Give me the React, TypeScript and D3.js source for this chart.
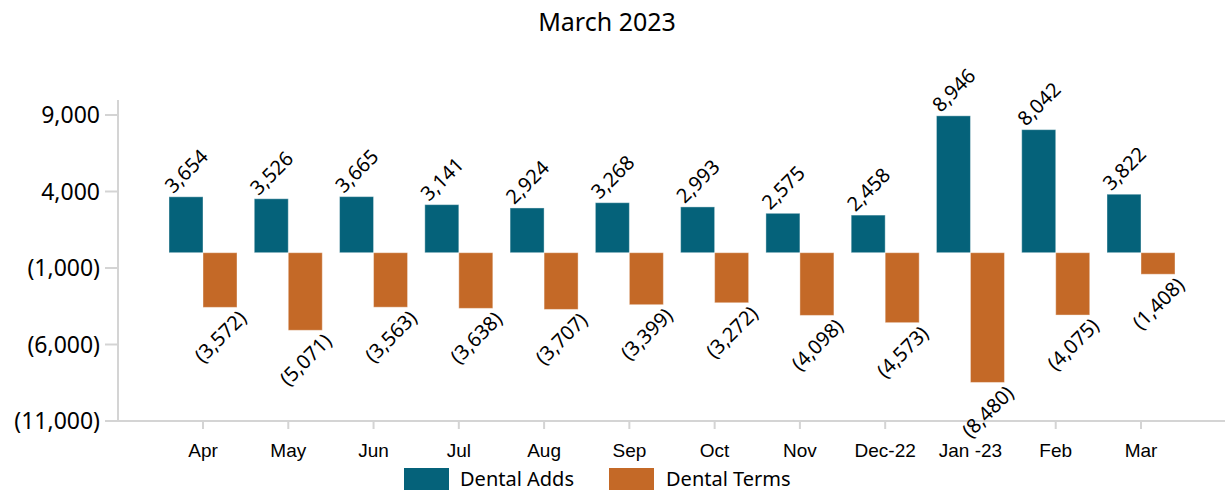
import React from 'react'
import { scaleLinear, scalePoint, format } from 'd3'

const width = 1225
const height = 494

const months = ['Apr', 'May', 'Jun', 'Jul', 'Aug', 'Sep', 'Oct', 'Nov', 'Dec-22', 'Jan -23', 'Feb', 'Mar']
const dentalAdds = [3654, 3526, 3665, 3141, 2924, 3268, 2993, 2575, 2458, 8946, 8042, 3822]
const dentalTerms = [-3572, -5071, -3563, -3638, -3707, -3399, -3272, -4098, -4573, -8480, -4075, -1408]
const yTicks = [9000, 4000, -1000, -6000, -11000]

const addsColor = '#05627a'
const termsColor = '#c46927'
const axisColor = '#d4d4d4'
const barW = 34

const x = scalePoint<string>().domain(months).range([203, 1141])
const y = scaleLinear().domain([-11000, 9000]).range([421, 115])

const comma = format(',')
const fmt = (v: number) => (v < 0 ? `(${comma(-v)})` : comma(v))

const sans = '"Noto Sans", sans-serif'

export default function App() {
  const y0 = y(0)
  return (
    <svg width={width} height={height} style={{ position: 'absolute', left: 0, top: 0, background: '#fff' }}>
      <text x={607} y={31} textAnchor="middle" fontFamily={sans} fontSize={25} fill="#000">
        March 2023
      </text>

      {/* axes */}
      <line x1={118} x2={118} y1={100} y2={421} stroke={axisColor} strokeWidth={2} />
      <line x1={118} x2={width} y1={421} y2={421} stroke={axisColor} strokeWidth={2} />
      {yTicks.map(t => (
        <g key={t}>
          <line x1={105} x2={118} y1={y(t)} y2={y(t)} stroke={axisColor} strokeWidth={2} />
          <text x={100} y={y(t)} dy="0.35em" textAnchor="end" fontFamily={sans} fontSize={23} fill="#000">
            {fmt(t)}
          </text>
        </g>
      ))}
      {months.map(m => (
        <g key={m}>
          <line x1={x(m)} x2={x(m)} y1={421} y2={429} stroke={axisColor} strokeWidth={2} />
          <text x={x(m)} y={457} textAnchor="middle" fontFamily='"Liberation Sans", Arial, sans-serif' fontSize={19} fill="#000">
            {m}
          </text>
        </g>
      ))}

      {/* bars */}
      {months.map((m, i) => {
        const cx = x(m) as number
        const a = dentalAdds[i]
        const t = dentalTerms[i]
        const aTop = y(a)
        const tBot = y(t)
        return (
          <g key={m}>
            <rect x={cx - barW} y={aTop} width={barW} height={y0 - aTop} fill={addsColor} stroke="#fff" strokeOpacity={0.4} strokeWidth={1} />
            <rect x={cx} y={y0} width={barW} height={tBot - y0} fill={termsColor} stroke="#fff" strokeOpacity={0.4} strokeWidth={1} />
            <text
              transform={`translate(${cx - barW / 2},${aTop - 26}) rotate(-45)`}
              textAnchor="middle"
              dominantBaseline="central"
              fontFamily={sans}
              fontSize={20}
              fill="#000"
            >
              {fmt(a)}
            </text>
            <text
              transform={`translate(${cx + barW / 2},${tBot + 29}) rotate(-45)`}
              textAnchor="middle"
              dominantBaseline="central"
              fontFamily={sans}
              fontSize={20}
              fill="#000"
            >
              {fmt(t)}
            </text>
          </g>
        )
      })}

      {/* legend */}
      <rect x={404} y={468} width={45} height={22} fill={addsColor} />
      <text x={460} y={479} dy="0.35em" fontFamily={sans} fontSize={20} fill="#000">Dental Adds</text>
      <rect x={609} y={468} width={45} height={22} fill={termsColor} />
      <text x={666} y={479} dy="0.35em" fontFamily={sans} fontSize={20} fill="#000">Dental Terms</text>
    </svg>
  )
}
